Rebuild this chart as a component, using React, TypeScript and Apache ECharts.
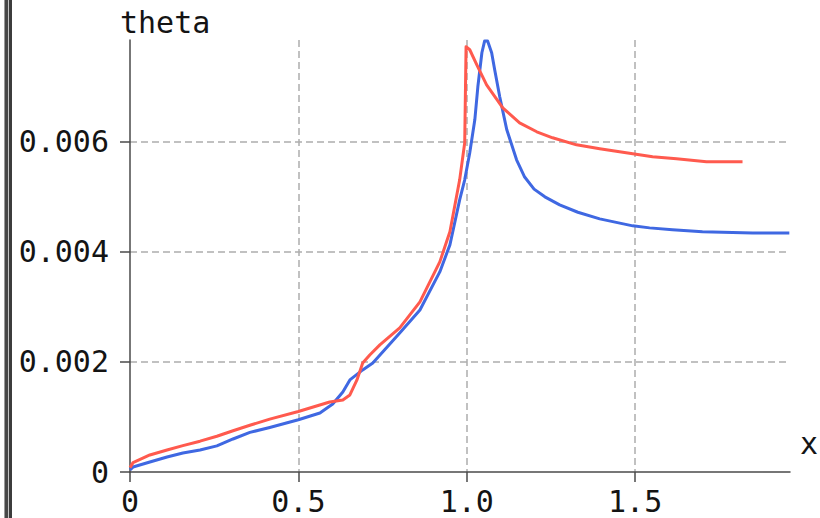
import React, { useEffect, useRef } from "react";
import * as echarts from "echarts";

// Blue curve samples
const blueX = [
  0, 0.009, 0.059, 0.11, 0.157, 0.208, 0.258, 0.306, 0.356, 0.415, 0.5, 0.564,
  0.602, 0.632, 0.653, 0.691, 0.721, 0.801, 0.861, 0.92, 0.95, 0.979, 0.994,
  1.009, 1.024, 1.033, 1.045, 1.053, 1.062, 1.074, 1.083, 1.098, 1.119, 1.148,
  1.172, 1.2, 1.232, 1.276, 1.33, 1.395, 1.493, 1.543, 1.611, 1.7, 1.849, 1.958,
];
const blueY = [
  0.00004, 0.00009, 0.000182, 0.000273, 0.000345, 0.0004, 0.000475, 0.0006,
  0.00072, 0.00081, 0.00095, 0.001073, 0.001236, 0.001455, 0.001673, 0.001855,
  0.001982, 0.002527, 0.002945, 0.003636, 0.004127, 0.004945, 0.005309, 0.0058,
  0.0064, 0.007, 0.007618, 0.00783, 0.00783, 0.007618, 0.007309, 0.006818,
  0.006218, 0.005673, 0.00536, 0.00514, 0.005, 0.004855, 0.00472, 0.0046,
  0.004473, 0.004436, 0.0044, 0.004364, 0.004345, 0.004345,
];

// Red curve samples
const redX = [
  0, 0.009, 0.059, 0.11, 0.157, 0.208, 0.258, 0.306, 0.356, 0.415, 0.5, 0.593,
  0.632, 0.653, 0.674, 0.691, 0.712, 0.742, 0.801, 0.861, 0.92, 0.95, 0.979,
  0.994, 0.998, 1.009, 1.03, 1.059, 1.107, 1.157, 1.208, 1.255, 1.326, 1.395,
  1.493, 1.552, 1.623, 1.712, 1.819,
];
const redY = [
  0.00008, 0.00017, 0.00031, 0.0004, 0.00048, 0.00056, 0.00065, 0.00075,
  0.00085, 0.00096, 0.0011, 0.001273, 0.001309, 0.0014, 0.001673, 0.001982,
  0.002127, 0.002309, 0.002618, 0.003091, 0.003818, 0.004364, 0.005309,
  0.005982, 0.007727, 0.007673, 0.0074, 0.007036, 0.006618, 0.006345, 0.006182,
  0.006073, 0.005945, 0.005873, 0.005782, 0.005727, 0.005691, 0.005636,
  0.005636,
];

const X_MAX = 1.96;
const Y_MAX = 0.00785;
const X_STEP = 0.5;
const Y_STEP = 0.002;

const X_NAME = "x";
const Y_NAME = "theta";

const FONT = "DejaVu Sans Mono";
const TEXT_COLOR = "#141414";
const AXIS_COLOR = "#4a4a4a";
const GRID_COLOR = "#adadad";
const BLUE = "#3f68e2";
const RED = "#ff5a4e";

const zip = (xs: number[], ys: number[]) => xs.map((x, i) => [x, ys[i]]);

export default function App() {
  const ref = useRef<HTMLDivElement>(null);

  useEffect(() => {
    if (!ref.current) return;
    const chart = echarts.init(ref.current, null, { renderer: "svg" });

    const axisCommon = {
      axisLine: { show: true, lineStyle: { color: AXIS_COLOR, width: 1.5 } },
      axisTick: { show: true, length: 10, lineStyle: { color: AXIS_COLOR, width: 1.5 } },
      splitLine: {
        show: true,
        showMinLine: false,
        showMaxLine: false,
        lineStyle: { color: GRID_COLOR, width: 1.5, type: [7, 4] },
      },
    };

    const labelCommon = {
      fontFamily: FONT,
      fontSize: 30,
      color: TEXT_COLOR,
      showMaxLabel: false,
    };

    chart.setOption({
      animation: false,
      backgroundColor: "#ffffff",
      grid: { left: 130, right: 30, top: 40, bottom: 46, containLabel: false },
      xAxis: {
        type: "value",
        min: 0,
        max: X_MAX,
        interval: X_STEP,
        ...axisCommon,
        axisLabel: {
          ...labelCommon,
          margin: 14,
          formatter: (v: number) => (v === 0 ? "0" : v.toFixed(1)),
        },
      },
      yAxis: {
        type: "value",
        min: 0,
        max: Y_MAX,
        interval: Y_STEP,
        ...axisCommon,
        axisLabel: {
          ...labelCommon,
          margin: 21,
          formatter: (v: number) => (v === 0 ? "0" : v.toFixed(3)),
        },
      },
      graphic: [
        // double rule down the left edge
        { type: "rect", shape: { x: 4, y: 0, width: 1, height: 518 }, style: { fill: "#9a9a9a" } },
        { type: "rect", shape: { x: 5, y: 0, width: 3, height: 518 }, style: { fill: "#474747" } },
        { type: "rect", shape: { x: 8, y: 0, width: 1, height: 518 }, style: { fill: "#c4c4c4" } },
        { type: "rect", shape: { x: 9, y: 0, width: 3, height: 518 }, style: { fill: "#3c3c3c" } },
        {
          type: "text",
          x: 120,
          y: 22,
          style: {
            text: Y_NAME,
            fontFamily: FONT,
            fontSize: 30,
            fill: TEXT_COLOR,
            align: "left",
            verticalAlign: "middle",
          },
        },
        {
          type: "text",
          x: 809,
          y: 443,
          style: {
            text: X_NAME,
            fontFamily: FONT,
            fontSize: 30,
            fill: TEXT_COLOR,
            align: "center",
            verticalAlign: "middle",
          },
        },
      ],
      series: [
        {
          type: "line",
          data: zip(blueX, blueY),
          showSymbol: false,
          lineStyle: { color: BLUE, width: 3, join: "round" },
          itemStyle: { color: BLUE },
          z: 2,
        },
        {
          type: "line",
          data: zip(redX, redY),
          showSymbol: false,
          lineStyle: { color: RED, width: 3, join: "round" },
          itemStyle: { color: RED },
          z: 3,
        },
      ],
    });

    return () => chart.dispose();
  }, []);

  return (
    <div
      ref={ref}
      style={{ position: "fixed", left: 0, top: 0, width: 820, height: 518 }}
    />
  );
}
